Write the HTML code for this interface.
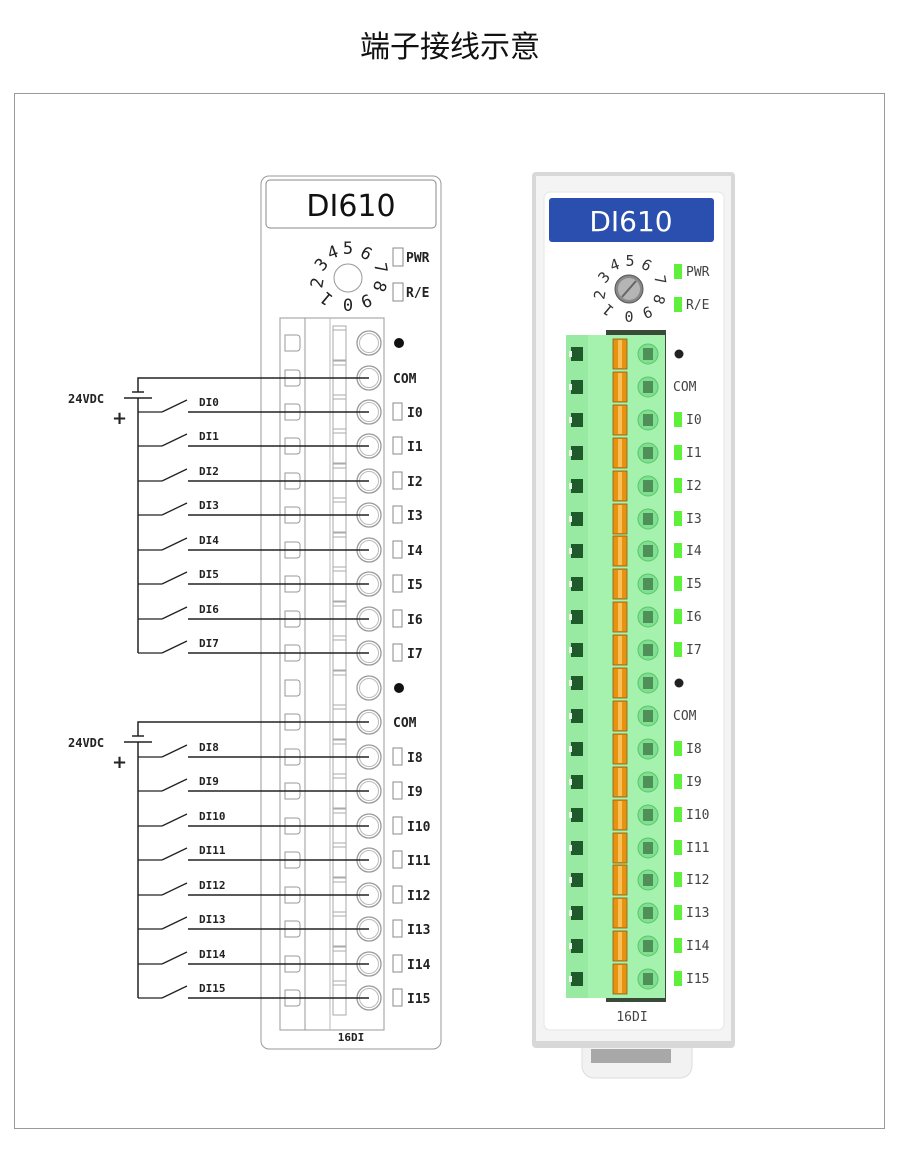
<!DOCTYPE html>
<html><head><meta charset="utf-8"><style>
html,body{margin:0;padding:0;background:#fff;}
svg{display:block;}
.m{font-family:"DejaVu Sans Mono","Liberation Mono",monospace;font-weight:bold;font-size:13px;fill:#222;}
.r{font-family:"DejaVu Sans Mono","Liberation Mono",monospace;font-size:13px;fill:#444;}
.s{font-family:"DejaVu Sans Mono","Liberation Mono",monospace;font-weight:bold;font-size:11px;fill:#222;}
</style></head><body>
<svg width="900" height="1162" viewBox="0 0 900 1162" xmlns="http://www.w3.org/2000/svg">
<defs>
<g id="lr">
<path d="M285,-8 h12 a3,3 0 0 1 3,3 v10 a3,3 0 0 1 -3,3 h-12 z" fill="none" stroke="#999" stroke-width="1"/>
<rect x="333" y="-17" width="13" height="34" fill="none" stroke="#aaa"/>
<line x1="333" y1="-13" x2="346" y2="-13" stroke="#aaa"/>
<circle cx="369" cy="0" r="12" fill="#fff" stroke="#999" stroke-width="1.3"/>
<circle cx="369" cy="0" r="9.5" fill="none" stroke="#bbb"/>
</g>
<g id="rr">
<rect x="571" y="-7" width="12" height="14" fill="#1f5a2a"/>
<rect x="569" y="-3" width="3" height="6" fill="#eee"/>
<rect x="613" y="-15" width="14" height="30" fill="#e8930f" stroke="#8a5a10" stroke-width="0.8"/>
<rect x="618" y="-14" width="4" height="28" fill="#f7c05a"/>
<circle cx="648" cy="0" r="10" fill="#7fe08f" stroke="#5cc46c"/>
<rect x="643" y="-6" width="10" height="12" fill="#4f8f58"/>
</g>
<g id="sw">
<line x1="138" y1="0" x2="162" y2="0" stroke="#222" stroke-width="1.3"/>
<line x1="162" y1="0" x2="187" y2="-12" stroke="#222" stroke-width="1.3"/>
<line x1="188" y1="0" x2="369" y2="0" stroke="#222" stroke-width="1.5"/>
</g>
<rect id="lb" x="393" y="-9" width="9" height="17" fill="#fff" stroke="#888"/>
<rect id="gb" x="674" y="-8" width="8" height="15" fill="#5ef03a"/>
</defs>
<text x="450" y="57" text-anchor="middle" font-family="'Liberation Sans','Noto Sans CJK SC',sans-serif" font-size="30" fill="#111">端子接线示意</text>
<rect x="14.5" y="93.5" width="870" height="1035" fill="#fff" stroke="#999"/>

<!-- LEFT MODULE -->
<rect x="261" y="176" width="180" height="873" rx="8" fill="#fff" stroke="#999"/>
<rect x="266" y="180" width="170" height="48" rx="4" fill="#fff" stroke="#888"/>
<text x="351" y="216" text-anchor="middle" font-family="'DejaVu Sans',sans-serif" font-size="30" fill="#111">DI610</text>
<circle cx="348" cy="278" r="14" fill="#fff" stroke="#999"/>
<g font-family="'DejaVu Sans Mono',monospace" font-size="17" fill="#222" text-anchor="middle">
<text x="348" y="254">5</text><text x="333" y="258" transform="rotate(-20 333 253)">4</text><text x="322" y="270" transform="rotate(-50 322 265)">3</text><text x="318" y="288" transform="rotate(-80 318 283)">2</text><text x="327" y="303" transform="rotate(-140 327 298)">1</text><text x="348" y="311">0</text><text x="366" y="305" transform="rotate(160 366 300)">9</text><text x="379" y="291" transform="rotate(110 379 286)">8</text><text x="380" y="273" transform="rotate(80 380 268)">7</text><text x="366" y="259" transform="rotate(30 366 254)">6</text>
</g>
<rect x="393" y="248" width="10" height="18" fill="#fff" stroke="#888"/><text x="406" y="262" class="m">PWR</text>
<rect x="393" y="283" width="10" height="18" fill="#fff" stroke="#888"/><text x="406" y="297" class="m">R/E</text>
<rect x="280" y="318" width="104" height="712" fill="#fff" stroke="#999"/>
<line x1="305" y1="318" x2="305" y2="1030" stroke="#999"/>
<line x1="330" y1="318" x2="330" y2="1030" stroke="#bbb"/>
<g>
<use href="#lr" y="343"/><use href="#lr" y="378"/><use href="#lr" y="412"/><use href="#lr" y="446"/><use href="#lr" y="481"/><use href="#lr" y="515"/><use href="#lr" y="550"/><use href="#lr" y="584"/><use href="#lr" y="619"/><use href="#lr" y="653"/><use href="#lr" y="688"/><use href="#lr" y="722"/><use href="#lr" y="757"/><use href="#lr" y="791"/><use href="#lr" y="826"/><use href="#lr" y="860"/><use href="#lr" y="895"/><use href="#lr" y="929"/><use href="#lr" y="964"/><use href="#lr" y="998"/>
</g>
<circle cx="399" cy="343" r="5" fill="#111"/><circle cx="399" cy="688" r="5" fill="#111"/>
<text x="393" y="383" class="m">COM</text><text x="393" y="727" class="m">COM</text>
<g>
<use href="#lb" y="412"/><use href="#lb" y="446"/><use href="#lb" y="481"/><use href="#lb" y="515"/><use href="#lb" y="550"/><use href="#lb" y="584"/><use href="#lb" y="619"/><use href="#lb" y="653"/><use href="#lb" y="757"/><use href="#lb" y="791"/><use href="#lb" y="826"/><use href="#lb" y="860"/><use href="#lb" y="895"/><use href="#lb" y="929"/><use href="#lb" y="964"/><use href="#lb" y="998"/>
</g>
<text x="407" y="417" class="m">I0</text><text x="407" y="451" class="m">I1</text><text x="407" y="486" class="m">I2</text><text x="407" y="520" class="m">I3</text><text x="407" y="555" class="m">I4</text><text x="407" y="589" class="m">I5</text><text x="407" y="624" class="m">I6</text><text x="407" y="658" class="m">I7</text>
<text x="407" y="762" class="m">I8</text><text x="407" y="796" class="m">I9</text><text x="407" y="831" class="m">I10</text><text x="407" y="865" class="m">I11</text><text x="407" y="900" class="m">I12</text><text x="407" y="934" class="m">I13</text><text x="407" y="969" class="m">I14</text><text x="407" y="1003" class="m">I15</text>
<text x="351" y="1041" text-anchor="middle" class="s">16DI</text>

<!-- wiring -->
<g stroke="#222" stroke-width="1.5" fill="none">
<path d="M369,378 H138 V392"/><line x1="132" y1="392" x2="144" y2="392"/><line x1="124" y1="398" x2="152" y2="398"/><line x1="138" y1="398" x2="138" y2="653"/>
<path d="M369,722 H138 V736"/><line x1="132" y1="736" x2="144" y2="736"/><line x1="124" y1="742" x2="152" y2="742"/><line x1="138" y1="742" x2="138" y2="998"/>
</g>
<text x="68" y="403" font-family="'DejaVu Sans Mono',monospace" font-weight="bold" font-size="12" fill="#222">24VDC</text>
<text x="112" y="424" font-family="'DejaVu Sans',sans-serif" font-weight="bold" font-size="18" fill="#222">+</text>
<text x="68" y="747" font-family="'DejaVu Sans Mono',monospace" font-weight="bold" font-size="12" fill="#222">24VDC</text>
<text x="112" y="768" font-family="'DejaVu Sans',sans-serif" font-weight="bold" font-size="18" fill="#222">+</text>
<g>
<use href="#sw" y="412"/><use href="#sw" y="446"/><use href="#sw" y="481"/><use href="#sw" y="515"/><use href="#sw" y="550"/><use href="#sw" y="584"/><use href="#sw" y="619"/><use href="#sw" y="653"/>
<use href="#sw" y="757"/><use href="#sw" y="791"/><use href="#sw" y="826"/><use href="#sw" y="860"/><use href="#sw" y="895"/><use href="#sw" y="929"/><use href="#sw" y="964"/><use href="#sw" y="998"/>
</g>
<text x="199" y="406" class="s">DI0</text><text x="199" y="440" class="s">DI1</text><text x="199" y="475" class="s">DI2</text><text x="199" y="509" class="s">DI3</text><text x="199" y="544" class="s">DI4</text><text x="199" y="578" class="s">DI5</text><text x="199" y="613" class="s">DI6</text><text x="199" y="647" class="s">DI7</text>
<text x="199" y="751" class="s">DI8</text><text x="199" y="785" class="s">DI9</text><text x="199" y="820" class="s">DI10</text><text x="199" y="854" class="s">DI11</text><text x="199" y="889" class="s">DI12</text><text x="199" y="923" class="s">DI13</text><text x="199" y="958" class="s">DI14</text><text x="199" y="992" class="s">DI15</text>

<!-- RIGHT MODULE -->
<path d="M582,1046 h110 v20 a12,12 0 0 1 -12,12 h-86 a12,12 0 0 1 -12,-12 z" fill="#f2f2f2" stroke="#ddd"/>
<rect x="591" y="1049" width="80" height="14" fill="#a8a8a8"/>
<rect x="532" y="172" width="203" height="876" rx="4" fill="#d8d8d8"/>
<rect x="536" y="176" width="195" height="865" fill="#f4f4f4"/>
<rect x="544" y="192" width="180" height="838" rx="6" fill="#fff" stroke="#e6e6e6"/>
<rect x="549" y="198" width="165" height="44" rx="3" fill="#2b4fae"/>
<text x="631" y="231" text-anchor="middle" font-family="'DejaVu Sans',sans-serif" font-size="28" fill="#fff">DI610</text>
<circle cx="629" cy="289" r="14" fill="#888" stroke="#555"/><circle cx="629" cy="289" r="11" fill="#b5b5b5"/>
<line x1="622" y1="297" x2="636" y2="281" stroke="#666" stroke-width="2"/>
<g font-family="'DejaVu Sans Mono',monospace" font-size="15" fill="#333" text-anchor="middle">
<text x="630" y="266">5</text><text x="615" y="270" transform="rotate(-20 615 266)">4</text><text x="605" y="282" transform="rotate(-50 605 278)">3</text><text x="601" y="299" transform="rotate(-80 601 295)">2</text><text x="609" y="313" transform="rotate(-140 609 309)">1</text><text x="629" y="322">0</text><text x="647" y="315" transform="rotate(160 647 311)">9</text><text x="658" y="303" transform="rotate(110 658 299)">8</text><text x="659" y="284" transform="rotate(80 659 280)">7</text><text x="646" y="270" transform="rotate(30 646 266)">6</text>
</g>
<rect x="674" y="264" width="8" height="15" fill="#5ef03a"/><text x="686" y="276" class="r">PWR</text>
<rect x="674" y="297" width="8" height="15" fill="#5ef03a"/><text x="686" y="309" class="r">R/E</text>
<rect x="606" y="330" width="60" height="672" fill="#3a4a3a"/>
<rect x="566" y="335" width="99" height="663" fill="#a4f2ae"/>
<rect x="566" y="335" width="22" height="663" fill="#98eaa3"/>
<g>
<use href="#rr" y="354"/><use href="#rr" y="387"/><use href="#rr" y="420"/><use href="#rr" y="453"/><use href="#rr" y="486"/><use href="#rr" y="519"/><use href="#rr" y="551"/><use href="#rr" y="584"/><use href="#rr" y="617"/><use href="#rr" y="650"/><use href="#rr" y="683"/><use href="#rr" y="716"/><use href="#rr" y="749"/><use href="#rr" y="782"/><use href="#rr" y="815"/><use href="#rr" y="848"/><use href="#rr" y="880"/><use href="#rr" y="913"/><use href="#rr" y="946"/><use href="#rr" y="979"/>
</g>
<circle cx="679" cy="354" r="4.5" fill="#222"/><circle cx="679" cy="683" r="4.5" fill="#222"/>
<text x="673" y="391" class="r">COM</text><text x="673" y="720" class="r">COM</text>
<g>
<use href="#gb" y="420"/><use href="#gb" y="453"/><use href="#gb" y="486"/><use href="#gb" y="519"/><use href="#gb" y="551"/><use href="#gb" y="584"/><use href="#gb" y="617"/><use href="#gb" y="650"/><use href="#gb" y="749"/><use href="#gb" y="782"/><use href="#gb" y="815"/><use href="#gb" y="848"/><use href="#gb" y="880"/><use href="#gb" y="913"/><use href="#gb" y="946"/><use href="#gb" y="979"/>
</g>
<text x="686" y="424" class="r">I0</text><text x="686" y="457" class="r">I1</text><text x="686" y="490" class="r">I2</text><text x="686" y="523" class="r">I3</text><text x="686" y="555" class="r">I4</text><text x="686" y="588" class="r">I5</text><text x="686" y="621" class="r">I6</text><text x="686" y="654" class="r">I7</text>
<text x="686" y="753" class="r">I8</text><text x="686" y="786" class="r">I9</text><text x="686" y="819" class="r">I10</text><text x="686" y="852" class="r">I11</text><text x="686" y="884" class="r">I12</text><text x="686" y="917" class="r">I13</text><text x="686" y="950" class="r">I14</text><text x="686" y="983" class="r">I15</text>
<text x="632" y="1021" text-anchor="middle" class="r">16DI</text>
</svg>
</body></html>
